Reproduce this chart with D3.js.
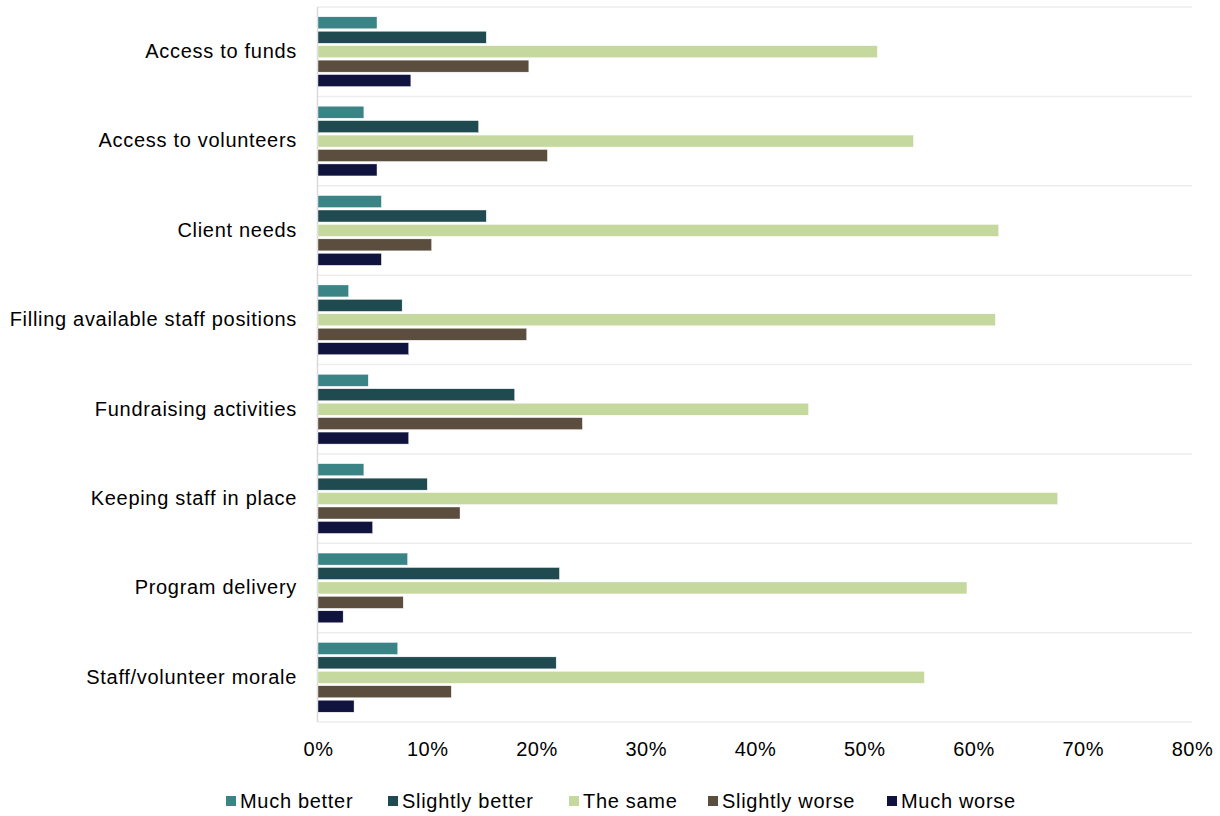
<!DOCTYPE html>
<html>
<head>
<meta charset="utf-8">
<script src="https://cdn.jsdelivr.net/npm/d3@7"></script>
<style>
  body { margin: 0; background: #fff; }
  svg text { font-family: "Liberation Sans", Arial, sans-serif; fill: #000; }
</style>
</head>
<body>
<div id="chart"></div>
<script>
var categories = [
  "Access to funds",
  "Access to volunteers",
  "Client needs",
  "Filling available staff positions",
  "Fundraising activities",
  "Keeping staff in place",
  "Program delivery",
  "Staff/volunteer morale"
];
var seriesNames = ["Much better", "Slightly better", "The same", "Slightly worse", "Much worse"];
var muchBetter     = [5.4, 4.2, 5.8, 2.8, 4.6, 4.2, 8.2, 7.3];
var slightlyBetter = [15.4, 14.7, 15.4, 7.7, 18.0, 10.0, 22.1, 21.8];
var theSame        = [51.2, 54.5, 62.3, 62.0, 44.9, 67.7, 59.4, 55.5];
var slightlyWorse  = [19.3, 21.0, 10.4, 19.1, 24.2, 13.0, 7.8, 12.2];
var muchWorse      = [8.5, 5.4, 5.8, 8.3, 8.3, 5.0, 2.3, 3.3];
var ticks = [0, 10, 20, 30, 40, 50, 60, 70, 80];
var colors = ["#3a8486", "#1f4b50", "#c5d89e", "#5b4e3f", "#11133f"];

var allSeries = [muchBetter, slightlyBetter, theSame, slightlyWorse, muchWorse];

var width = 1220, height = 816;
var margin = { top: 7, left: 318, right: 28, bottom: 94 };
var plotW = width - margin.left - margin.right;
var plotH = height - margin.top - margin.bottom;

var svg = d3.select("#chart").append("svg")
  .attr("width", width)
  .attr("height", height);

var g = svg.append("g")
  .attr("transform", "translate(" + margin.left + "," + margin.top + ")");

var x = d3.scaleLinear().domain([0, 80]).range([0, plotW]);
var y = d3.scaleBand().domain(categories).range([0, plotH]).paddingInner(0).paddingOuter(0);
var inner = d3.scaleBand().domain(seriesNames).range([0, y.bandwidth()]).paddingOuter(0.68).paddingInner(0.17);

// horizontal separators between categories
g.append("g").selectAll("line")
  .data(d3.range(categories.length + 1))
  .enter().append("line")
  .attr("x1", 0).attr("x2", plotW)
  .attr("y1", function (i) { return i * y.step(); })
  .attr("y2", function (i) { return i * y.step(); })
  .attr("stroke", "#ededed")
  .attr("stroke-width", 1.5);

// left axis line
g.append("line")
  .attr("x1", -0.5).attr("x2", -0.5)
  .attr("y1", 0).attr("y2", plotH)
  .attr("stroke", "#d9d9d9")
  .attr("stroke-width", 1.5);

// bars
var groups = g.append("g").selectAll("g")
  .data(categories)
  .enter().append("g")
  .attr("transform", function (d) { return "translate(0," + y(d) + ")"; });

groups.selectAll("rect")
  .data(function (d, ci) {
    return seriesNames.map(function (s, si) { return { s: s, si: si, v: allSeries[si][ci] }; });
  })
  .enter().append("rect")
  .attr("x", x(0))
  .attr("y", function (d) { return inner(d.s); })
  .attr("width", function (d) { return x(d.v) - x(0); })
  .attr("height", inner.bandwidth())
  .attr("fill", function (d) { return colors[d.si]; })
  .attr("stroke", "#fff")
  .attr("stroke-width", 0.4);

// category labels
var yAxis = d3.axisLeft(y).tickSize(0).tickPadding(21);
g.append("g").call(yAxis)
  .call(function (a) { a.select(".domain").remove(); })
  .selectAll("text")
  .style("font-size", "20px")
  .style("letter-spacing", "0.7px")
  .style("font-family", "'Liberation Sans', Arial, sans-serif")
  .attr("fill", "#000");

// x axis tick labels
var xAxis = d3.axisBottom(x).tickValues(ticks).tickSize(0).tickPadding(20)
  .tickFormat(function (d) { return d + "%"; });
g.append("g").attr("transform", "translate(0," + plotH + ")").call(xAxis)
  .call(function (a) { a.select(".domain").remove(); })
  .selectAll("text")
  .style("font-size", "20px")
  .style("letter-spacing", "0.5px")
  .style("font-family", "'Liberation Sans', Arial, sans-serif")
  .attr("fill", "#000");

// legend
var legendX = [226, 388, 569, 708, 887];
var legend = svg.append("g").selectAll("g")
  .data(seriesNames)
  .enter().append("g")
  .attr("transform", function (d, i) { return "translate(" + legendX[i] + ",796)"; });
legend.append("rect")
  .attr("width", 10).attr("height", 10)
  .attr("fill", function (d, i) { return colors[i]; });
legend.append("text")
  .attr("x", 14).attr("y", 5)
  .attr("dy", "0.35em")
  .style("font-size", "20px")
  .style("letter-spacing", "0.7px")
  .text(function (d) { return d; });
</script>
</body>
</html>
